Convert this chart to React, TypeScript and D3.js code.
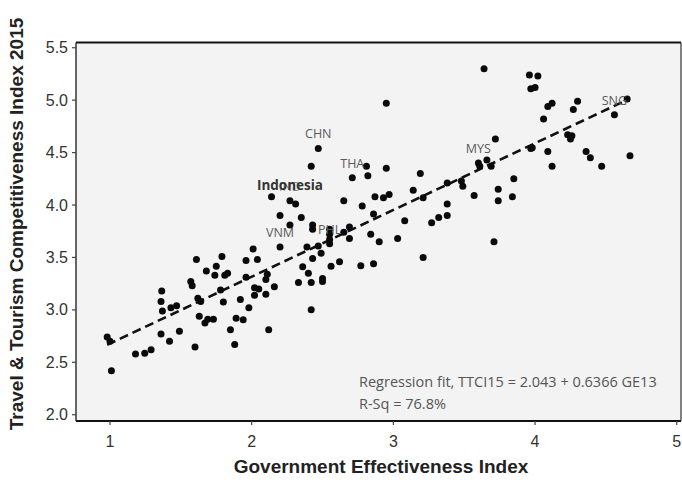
import * as d3 from 'd3'
import React from 'react'

// Government effectiveness (x) and TTCI 2015 (y), one entry per country
const ge = [
  0.98, 1.0, 1.01, 1.18, 1.245, 1.29, 1.365, 1.36, 1.37, 1.43, 1.47, 1.36, 1.42, 1.49,
  1.57, 1.58, 1.61, 1.62, 1.64, 1.6, 1.63, 1.67, 1.69, 1.73, 1.68, 1.75, 1.79, 1.74,
  1.81, 1.83, 1.78, 1.8, 1.85, 1.88, 1.89, 1.94, 1.92, 1.98, 1.96, 1.96, 2.01, 2.04,
  2.02, 2.05, 2.02, 2.1, 2.1, 2.11, 2.12, 2.16, 2.2, 2.27, 2.14, 2.27, 2.31, 2.2,
  2.35, 2.43, 2.43, 2.55, 2.55, 2.55, 2.39, 2.47, 2.49, 2.55, 2.43, 2.36, 2.4, 2.56,
  2.62, 2.77, 2.86, 2.33, 2.42, 2.5, 2.5, 2.42, 2.47, 2.42, 2.81, 2.82, 2.95, 2.71,
  3.19, 2.95, 3.64, 2.65, 2.78, 2.87, 2.93, 2.97, 3.14, 3.21, 3.38, 3.38, 2.86, 3.08,
  3.27, 3.32, 3.38, 2.65, 2.69, 2.69, 2.84, 2.9, 3.03, 3.21, 3.71, 3.48, 3.49, 3.57,
  3.74, 3.74, 3.72, 3.6, 3.61, 3.66, 3.69, 3.85, 3.84, 3.96, 4.02, 3.97, 4.0, 4.09,
  4.12, 4.27, 4.3, 4.06, 4.56, 4.65, 4.23, 4.26, 4.25, 3.97, 3.98, 4.09, 4.12, 4.36,
  4.39, 4.47, 4.67,
]
const ttci = [
  2.74, 2.7, 2.42, 2.58, 2.585, 2.62, 3.18, 3.08, 2.99, 3.02, 3.04, 2.77, 2.7, 2.795,
  3.27, 3.23, 3.48, 3.11, 3.08, 2.645, 2.94, 2.875, 2.91, 2.91, 3.37, 3.415, 3.51, 3.33,
  3.33, 3.35, 3.19, 3.075, 2.81, 2.67, 2.92, 2.905, 3.1, 3.02, 3.47, 3.31, 3.58, 3.48,
  3.21, 3.2, 3.14, 3.15, 3.29, 3.34, 2.81, 3.22, 3.6, 3.81, 4.08, 4.04, 4.01, 3.9,
  3.88, 3.81, 3.77, 3.77, 3.72, 3.67, 3.6, 3.61, 3.54, 3.63, 3.49, 3.41, 3.35, 3.415,
  3.46, 3.42, 3.44, 3.26, 3.26, 3.3, 3.27, 3.0, 4.54, 4.37, 4.37, 4.28, 4.35, 4.26,
  4.3, 4.97, 5.3, 4.04, 3.99, 4.08, 4.07, 4.1, 4.14, 4.07, 4.21, 4.01, 3.915, 3.85,
  3.83, 3.88, 3.9, 3.74, 3.79, 3.68, 3.72, 3.65, 3.68, 3.5, 3.65, 4.23, 4.18, 4.09,
  4.15, 4.04, 4.63, 4.4, 4.37, 4.43, 4.37, 4.25, 4.08, 5.24, 5.23, 5.11, 5.12, 4.94,
  4.97, 4.91, 4.99, 4.82, 4.86, 5.01, 4.67, 4.66, 4.63, 4.54, 4.545, 4.51, 4.37, 4.51,
  4.45, 4.37, 4.47,
]

// labelled countries
const labelCodes = ['CHN', 'THA', 'MYS', 'SNG', 'VNM', 'PHL', 'IND']
const labelGe = [2.47, 2.71, 3.6, 4.56, 2.2, 2.55, 2.27]
const labelTtci = [4.54, 4.26, 4.4, 4.86, 3.6, 3.63, 4.04]

const xTicks = [1, 2, 3, 4, 5]
const yTicks = [2.0, 2.5, 3.0, 3.5, 4.0, 4.5, 5.0, 5.5]

// fit: TTCI15 = 2.043 + 0.6366 GE13
const fitIntercept = 2.043
const fitSlope = 0.6366
const fitRange = [0.98, 4.62]

const W = 682
const H = 480
const left = 76
const right = 681
const top = 42.5
const bottom = 421

const App = () => {
  const x = d3.scaleLinear().domain([0.76, 5.03]).range([left, right])
  const y = d3.scaleLinear().domain([1.94, 5.55]).range([bottom, top])

  const fitLine = d3
    .line<number>()
    .x((d) => x(d))
    .y((d) => y(fitIntercept + fitSlope * d))(fitRange)

  const labelFont = '"Open Sans", "Noto Sans", sans-serif'
  const axisFont = '"Liberation Sans", Arial, sans-serif'

  return (
    <svg width={W} height={H} style={{ position: 'absolute', left: 0, top: 0, background: '#fff' }}>
      {/* plot background */}
      <rect x={left} y={top} width={right - left} height={bottom - top} fill="#f3f3f3" />

      {/* regression line */}
      <path d={fitLine || ''} fill="none" stroke="#111" strokeWidth={2.6} strokeDasharray="9,5" />

      {/* points */}
      {ge.map((g, i) => (
        <circle key={i} cx={x(g)} cy={y(ttci[i])} r={3.5} fill="#0a0a0a" />
      ))}

      {/* country labels */}
      {labelCodes.map((c, i) => (
        <text
          key={c}
          x={x(labelGe[i])}
          y={y(labelTtci[i]) - 10}
          textAnchor="middle"
          fontFamily={labelFont}
          fontSize={12.5}
          fill={c === 'IND' ? '#888' : '#5a5a5a'}
        >
          {c}
        </text>
      ))}
      <text
        x={x(labelGe[6])}
        y={y(labelTtci[6]) - 11}
        textAnchor="middle"
        fontFamily={labelFont}
        fontSize={13.5}
        fontWeight="bold"
        fill="#333"
      >
        Indonesia
      </text>

      {/* regression annotation */}
      <text x={359} y={387} fontFamily={labelFont} fontSize={14.5} fill="#555">
        Regression fit, TTCI15 = 2.043 + 0.6366 GE13
      </text>
      <text x={359} y={409} fontFamily={labelFont} fontSize={14.5} fill="#555">
        R-Sq = 76.8%
      </text>

      {/* frame */}
      <line x1={left} x2={right} y1={top} y2={top} stroke="#111" strokeWidth={2} />
      <line x1={left} x2={right} y1={bottom} y2={bottom} stroke="#111" strokeWidth={2} />
      <line x1={left} x2={left} y1={top} y2={bottom} stroke="#333" strokeWidth={1.5} />
      <line x1={right} x2={right} y1={top} y2={bottom} stroke="#333" strokeWidth={1.2} />

      {/* x axis */}
      {xTicks.map((t) => (
        <g key={t}>
          <line x1={x(t)} x2={x(t)} y1={bottom} y2={bottom + 4} stroke="#444" strokeWidth={1.2} />
          <text x={x(t)} y={bottom + 26} textAnchor="middle" fontFamily={axisFont} fontSize={16} fill="#333">
            {t}
          </text>
        </g>
      ))}

      {/* y axis */}
      {yTicks.map((t) => (
        <g key={t}>
          <line x1={left - 4} x2={left} y1={y(t)} y2={y(t)} stroke="#444" strokeWidth={1.2} />
          <text
            x={left - 8}
            y={y(t) + 5.5}
            textAnchor="end"
            fontFamily={axisFont}
            fontSize={16}
            fill="#333"
          >
            {t.toFixed(1)}
          </text>
        </g>
      ))}

      {/* axis titles */}
      <text
        x={381}
        y={473}
        textAnchor="middle"
        fontFamily={axisFont}
        fontSize={19}
        fontWeight="bold"
        fill="#222"
      >
        Government Effectiveness Index
      </text>
      <text
        transform={`translate(23, 224) rotate(-90)`}
        textAnchor="middle"
        fontFamily={axisFont}
        fontSize={19}
        fontWeight="bold"
        fill="#222"
      >
        Travel &amp; Tourism Competitiveness Index 2015
      </text>
    </svg>
  )
}

export default App
